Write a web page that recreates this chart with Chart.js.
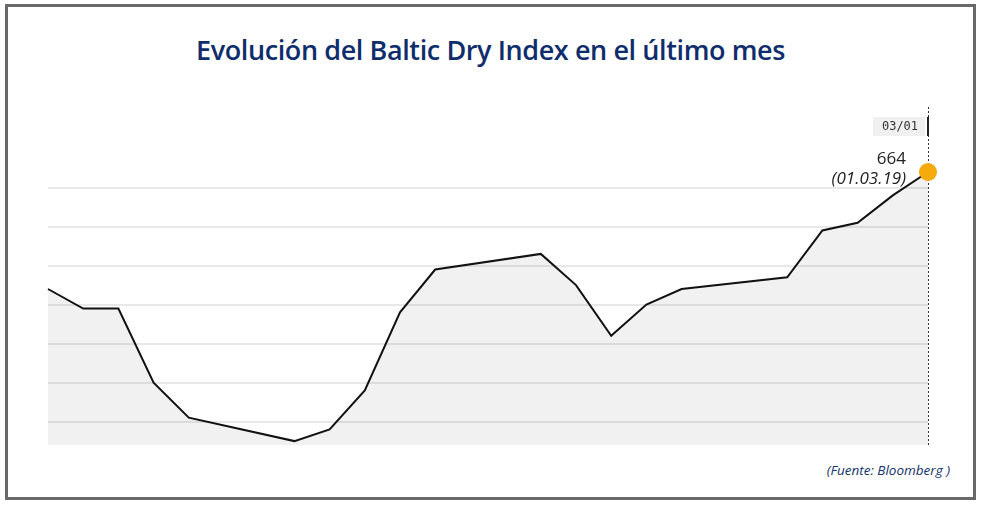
<!DOCTYPE html>
<html>
<head>
<meta charset="utf-8">
<script src="https://cdn.jsdelivr.net/npm/chart.js@4/dist/chart.umd.min.js"></script>
<style>
  html, body { margin: 0; padding: 0; background: #fff; }
  #wrap { position: relative; width: 981px; height: 505px; overflow: hidden; }
  #frame { position: absolute; left: 5px; top: 4px; width: 965px; height: 490px; border: 3px solid #686868; }
  #title { position: absolute; left: 0; width: 981px; top: 31px; text-align: center;
    font-family: "Open Sans", sans-serif; font-size: 27px; font-weight: 600; color: #0f2d6b; letter-spacing: -0.4px; }
  #source { position: absolute; right: 31px; top: 461px; font-family: "Open Sans", sans-serif;
    font-style: italic; font-size: 13.5px; color: #14336b; }
  canvas { position: absolute; left: 0; top: 0; }
</style>
</head>
<body>
<div id="wrap">
  <div id="frame"></div>
  <div id="title">Evolución del Baltic Dry Index en el último mes</div>
  <div id="source">(Fuente: Bloomberg )</div>
  <canvas id="canvas" width="981" height="505"></canvas>
</div>
<script>
// Dias del mes (formato MM/DD), los fines de semana sin dato
const fechas = ['02/04','02/05','02/06','02/07','02/08','02/09','02/10','02/11','02/12','02/13',
  '02/14','02/15','02/16','02/17','02/18','02/19','02/20','02/21','02/22','02/23',
  '02/24','02/25','02/26','02/27','02/28','03/01'];
const valores = [634, 629, 629, 610, 601, null, null, 595, 598, 608,
  628, 639, null, null, 643, 635, 622, 630, 634, null,
  null, 637, 649, 651, 658, 664];
const lineasGuia = [600, 610, 620, 630, 640, 650, 660];
const ultimoValor = '664';
const ultimaFecha = '(01.03.19)';
const etiquetaFecha = '03/01';

const last = valores.length - 1;

// Anotaciones: linea punteada vertical, etiqueta de fecha y valor
const marcaFinal = {
  id: 'marcaFinal',
  beforeDatasetsDraw(chart) {
    const ctx = chart.ctx;
    const pt = chart.getDatasetMeta(0).data[last];
    const x = Math.round(pt.x) + 0.5;
    ctx.save();
    ctx.strokeStyle = '#333';
    ctx.lineWidth = 1;
    ctx.setLineDash([2, 2]);
    ctx.beginPath();
    ctx.moveTo(x, 107);
    ctx.lineTo(x, chart.chartArea.bottom);
    ctx.stroke();
    ctx.restore();
  },
  afterDatasetsDraw(chart) {
    const ctx = chart.ctx;
    const pt = chart.getDatasetMeta(0).data[last];
    const x = Math.round(pt.x);
    ctx.save();
    // caja de fecha
    ctx.fillStyle = '#f0f0f0';
    ctx.fillRect(x - 55, 117, 52, 19);
    ctx.fillStyle = '#222';
    ctx.fillRect(x - 1, 117, 2, 19);
    ctx.font = '12px "DejaVu Sans Mono", monospace';
    ctx.fillStyle = '#333';
    ctx.textAlign = 'center';
    ctx.textBaseline = 'middle';
    ctx.fillText(etiquetaFecha, x - 28, 127);
    // valor
    ctx.textAlign = 'right';
    ctx.textBaseline = 'alphabetic';
    ctx.fillStyle = '#222';
    ctx.font = '17px "Open Sans", sans-serif';
    ctx.fillText(ultimoValor, x - 22, 164);
    ctx.font = 'italic 17px "Open Sans", sans-serif';
    ctx.fillText(ultimaFecha, x - 22, 184);
    ctx.restore();
  }
};

new Chart(document.getElementById('canvas'), {
  type: 'line',
  data: {
    labels: fechas,
    datasets: [{
      data: valores,
      spanGaps: true,
      borderColor: '#111',
      borderWidth: 2,
      backgroundColor: 'rgba(0,0,0,0.055)',
      fill: 'start',
      tension: 0,
      clip: false,
      pointRadius: ctx => ctx.dataIndex === last ? 9 : 0,
      pointHoverRadius: ctx => ctx.dataIndex === last ? 9 : 0,
      pointBackgroundColor: '#f6aa0c',
      pointBorderWidth: 0
    }]
  },
  options: {
    responsive: false,
    animation: false,
    events: [],
    layout: { padding: { left: 48, right: 53, top: 172, bottom: 60 } },
    plugins: { legend: { display: false }, tooltip: { enabled: false } },
    scales: {
      x: { display: false, offset: false },
      y: {
        min: 594,
        max: 664,
        afterFit: s => { s.width = 0; },
        afterBuildTicks: s => { s.ticks = lineasGuia.map(v => ({ value: v })); },
        ticks: { display: false },
        border: { display: false },
        grid: { drawTicks: false, lineWidth: 2, color: '#e8e8e8' }
      }
    }
  },
  plugins: [marcaFinal]
});
</script>
</body>
</html>
